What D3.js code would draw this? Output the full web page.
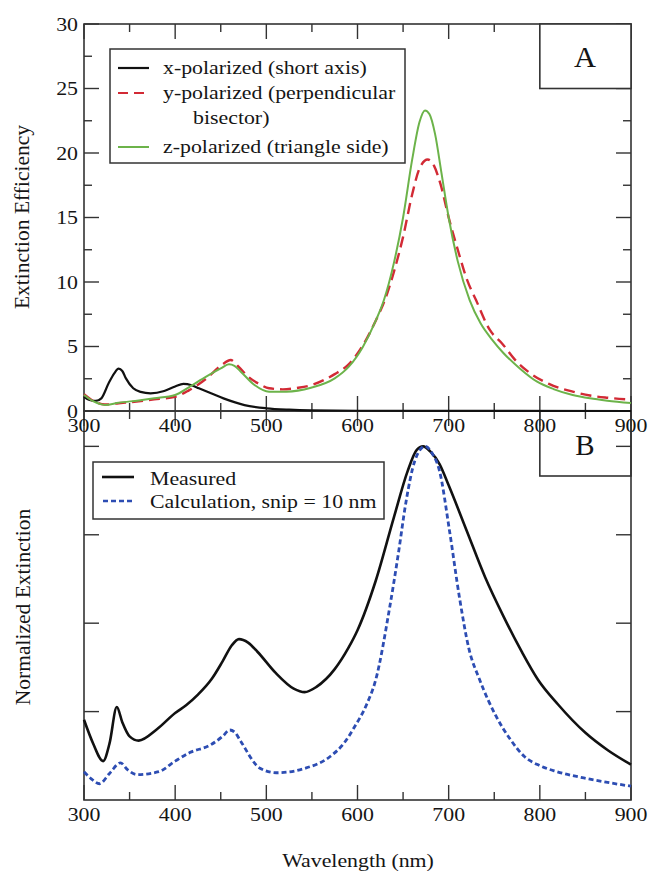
<!DOCTYPE html>
<html>
<head>
<meta charset="utf-8">
<script src="https://cdn.jsdelivr.net/npm/d3@7"></script>
<style>
  body { margin: 0; background: #fff; }
  text { font-family: "Liberation Serif", "DejaVu Serif", serif; fill: #151515; }
</style>
</head>
<body>
<div id="vis"></div>
<script>
// wavelength ticks, shared by both panels
var xTicks = [300, 400, 500, 600, 700, 800, 900];
var yTicksA = [0, 5, 10, 15, 20, 25, 30];
var yTicksB = [0.25, 0.5, 0.75, 1.0];

// panel A: extinction efficiency, [wavelength nm, value]
var xPolarized = [[300,1.1],[306,0.85],[313,0.78],[319,0.98],[327,2.15],[333,2.9],[338,3.28],[342,3.1],[346,2.53],
  [354,1.76],[362,1.48],[373,1.37],[388,1.55],[400,1.9],[409,2.1],[418,2.0],[426,1.76],[440,1.35],[453,0.98],
  [476,0.46],[500,0.21],[525,0.1],[549,0.05],[600,0.02],[700,0.01],[900,0.0]];
var yPolarized = [[300,1.3],[311,0.75],[323,0.5],[338,0.6],[360,0.75],[377,0.9],[400,1.1],[415,1.6],[434,2.5],
  [450,3.5],[461,3.95],[470,3.4],[480,2.66],[492,2.1],[503,1.76],[518,1.68],[535,1.8],[549,2.0],[575,2.86],
  [590,3.6],[606,5.1],[620,7.0],[630,8.6],[640,10.8],[650,13.5],[660,16.8],[668,18.8],[677,19.5],[684,19.0],
  [691,17.6],[700,15.0],[710,12.5],[720,10.2],[730,8.6],[745,6.3],[759,5.2],[775,3.8],[790,2.9],[810,2.1],
  [836,1.5],[855,1.2],[874,1.03],[900,0.88]];
var zPolarized = [[300,1.24],[311,0.72],[323,0.47],[338,0.64],[360,0.82],[377,0.98],[400,1.24],[415,1.84],
  [434,2.66],[450,3.3],[459,3.62],[465,3.5],[472,3.05],[487,2.02],[503,1.5],[522,1.5],[549,1.8],[575,2.53],
  [590,3.4],[606,4.99],[620,7.0],[629,8.6],[640,11.5],[650,15.0],[660,19.5],[668,22.4],[674,23.3],[679,23.0],
  [685,21.5],[692,18.5],[700,15.0],[710,11.6],[723,8.6],[735,6.8],[748,5.5],[760,4.5],[778,3.3],[797,2.27],
  [815,1.7],[836,1.24],[855,0.98],[874,0.8],[900,0.62]];

// panel B: normalized extinction
var measured = [[300,0.227],[310,0.16],[321,0.11],[328,0.16],[336,0.263],[342,0.22],[350,0.18],[360,0.168],
  [380,0.2],[400,0.246],[412,0.268],[425,0.298],[440,0.342],[452,0.392],[462,0.437],[470,0.455],[480,0.445],
  [490,0.42],[510,0.36],[530,0.315],[542,0.305],[555,0.32],[575,0.37],[590,0.43],[600,0.48],[620,0.62],
  [640,0.8],[655,0.93],[665,0.99],[672,1.0],[680,0.985],[690,0.95],[700,0.89],[720,0.76],[740,0.63],
  [760,0.52],[780,0.42],[798,0.34],[820,0.27],[850,0.19],[875,0.14],[900,0.1]];
var calculation = [[300,0.08],[308,0.06],[317,0.046],[328,0.075],[340,0.105],[348,0.085],[358,0.072],[382,0.08],
  [400,0.11],[416,0.134],[439,0.156],[452,0.18],[460,0.198],[466,0.19],[471,0.17],[493,0.09],[511,0.077],
  [543,0.09],[570,0.123],[585,0.16],[597,0.208],[610,0.27],[620,0.34],[635,0.54],[645,0.7],[653,0.84],
  [663,0.96],[674,1.0],[682,0.98],[690,0.93],[701,0.76],[712,0.57],[722,0.43],[734,0.34],[752,0.237],
  [768,0.17],[783,0.123],[800,0.097],[819,0.08],[855,0.059],[900,0.039]];

var W = 649, H = 873;
var SX = 1.15;  // the scanned figure is a bit wider than tall, stretch text to match
var left = 84, right = 631, topA = 24, botA = 411, topB = 411, botB = 800;

var svg = d3.select("#vis").append("svg").attr("width", W).attr("height", H);

var x = d3.scaleLinear().domain([300, 900]).range([left, right]);
var yA = d3.scaleLinear().domain([0, 30]).range([botA, topA]);
var yB = d3.scaleLinear().domain([0, 1.1]).range([botB, topB]);

var axisColor = "#333";

function label(px, py, txt, size, anchor, sx) {
  return svg.append("text")
    .attr("transform", `translate(${px},${py}) scale(${sx || SX},1)`)
    .attr("text-anchor", anchor || "start")
    .style("font-size", size + "px")
    .text(txt);
}

function tick(x1, y1, x2, y2) {
  svg.append("line").attr("x1", x1).attr("y1", y1).attr("x2", x2).attr("y2", y2)
    .attr("stroke", axisColor).attr("stroke-width", 1.4);
}

var minorX = d3.range(350, 900, 100);

// ---- frames and ticks ----
[[topA, botA], [topB, botB]].forEach(function(p) {
  svg.append("rect").attr("x", left).attr("y", p[0]).attr("width", right - left).attr("height", p[1] - p[0])
    .attr("fill", "none").attr("stroke", axisColor).attr("stroke-width", 1.6);
  xTicks.forEach(function(v) { tick(x(v), p[0], x(v), p[0] + 15); tick(x(v), p[1], x(v), p[1] - 15); });
  minorX.forEach(function(v) { tick(x(v), p[0], x(v), p[0] + 8); tick(x(v), p[1], x(v), p[1] - 8); });
});

yTicksA.forEach(function(v) { tick(left, yA(v), left + 15, yA(v)); tick(right, yA(v), right - 15, yA(v)); });
d3.range(2.5, 30, 5).forEach(function(v) { tick(left, yA(v), left + 8, yA(v)); tick(right, yA(v), right - 8, yA(v)); });
yTicksB.forEach(function(v) { tick(left, yB(v), left + 15, yB(v)); tick(right, yB(v), right - 15, yB(v)); });

// ---- tick labels ----
yTicksA.forEach(function(v) { label(78, yA(v) + 6.5, v, 19, "end"); });
xTicks.forEach(function(v) { label(x(v), 432, v, 19, "middle"); });
xTicks.forEach(function(v) { label(x(v), 821, v, 19, "middle"); });

// axis titles
svg.append("text").attr("transform", "translate(29,217) rotate(-90)").attr("text-anchor", "middle")
  .style("font-size", "21.5px").text("Extinction Efficiency");
svg.append("text").attr("transform", "translate(30,607) rotate(-90)").attr("text-anchor", "middle")
  .style("font-size", "21.5px").text("Normalized Extinction");
label(358, 867, "Wavelength (nm)", 19, "middle");

// ---- panel letters ----
svg.append("rect").attr("x", x(800)).attr("y", topA).attr("width", x(900) - x(800)).attr("height", yA(25) - topA)
  .attr("fill", "#fff").attr("stroke", axisColor).attr("stroke-width", 1.6);
label(585, 67, "A", 29, "middle", 1.05);
svg.append("rect").attr("x", x(800)).attr("y", topB).attr("width", x(900) - x(800)).attr("height", 65)
  .attr("fill", "none").attr("stroke", axisColor).attr("stroke-width", 1.6);
label(585, 455, "B", 29, "middle", 1.0);

// ---- curves ----
var lineA = d3.line().x(d => x(d[0])).y(d => yA(d[1])).curve(d3.curveMonotoneX);
var lineB = d3.line().x(d => x(d[0])).y(d => yB(d[1])).curve(d3.curveMonotoneX);

svg.append("path").attr("d", lineA(xPolarized)).attr("fill", "none").attr("stroke", "#111").attr("stroke-width", 2.2);
svg.append("path").attr("d", lineA(yPolarized)).attr("fill", "none").attr("stroke", "#d22a35").attr("stroke-width", 2.4)
  .attr("stroke-dasharray", "11,6");
svg.append("path").attr("d", lineA(zPolarized)).attr("fill", "none").attr("stroke", "#6cb34a").attr("stroke-width", 2);

svg.append("path").attr("d", lineB(measured)).attr("fill", "none").attr("stroke", "#111").attr("stroke-width", 2.6);
svg.append("path").attr("d", lineB(calculation)).attr("fill", "none").attr("stroke", "#2d4db3").attr("stroke-width", 2.8)
  .attr("stroke-dasharray", "5,3");

// ---- legend A ----
svg.append("rect").attr("x", 110).attr("y", 49).attr("width", 295).attr("height", 114)
  .attr("fill", "#fff").attr("stroke", axisColor).attr("stroke-width", 1.5);
var legA = [
  {y: 68, text: "x-polarized (short axis)", color: "#111", dash: null, w: 2.2},
  {y: 93, text: "y-polarized (perpendicular", color: "#d22a35", dash: "10,6", w: 2.2},
  {y: 147, text: "z-polarized (triangle side)", color: "#6cb34a", dash: null, w: 2}
];
legA.forEach(function(d) {
  svg.append("line").attr("x1", 118).attr("x2", 149).attr("y1", d.y).attr("y2", d.y)
    .attr("stroke", d.color).attr("stroke-width", d.w).attr("stroke-dasharray", d.dash);
  label(163, d.y + 5.5, d.text, 19);
});
label(193, 124, "bisector)", 19);

// ---- legend B ----
svg.append("rect").attr("x", 93).attr("y", 462).attr("width", 291).attr("height", 57)
  .attr("fill", "#fff").attr("stroke", axisColor).attr("stroke-width", 1.5);
svg.append("line").attr("x1", 102).attr("x2", 134).attr("y1", 477).attr("y2", 477)
  .attr("stroke", "#111").attr("stroke-width", 2.6);
label(150, 485, "Measured", 19);
svg.append("line").attr("x1", 103).attr("x2", 134).attr("y1", 501).attr("y2", 501)
  .attr("stroke", "#2d4db3").attr("stroke-width", 2.6).attr("stroke-dasharray", "5,3");
label(150, 508, "Calculation, snip = 10 nm", 19);
</script>
</body>
</html>
